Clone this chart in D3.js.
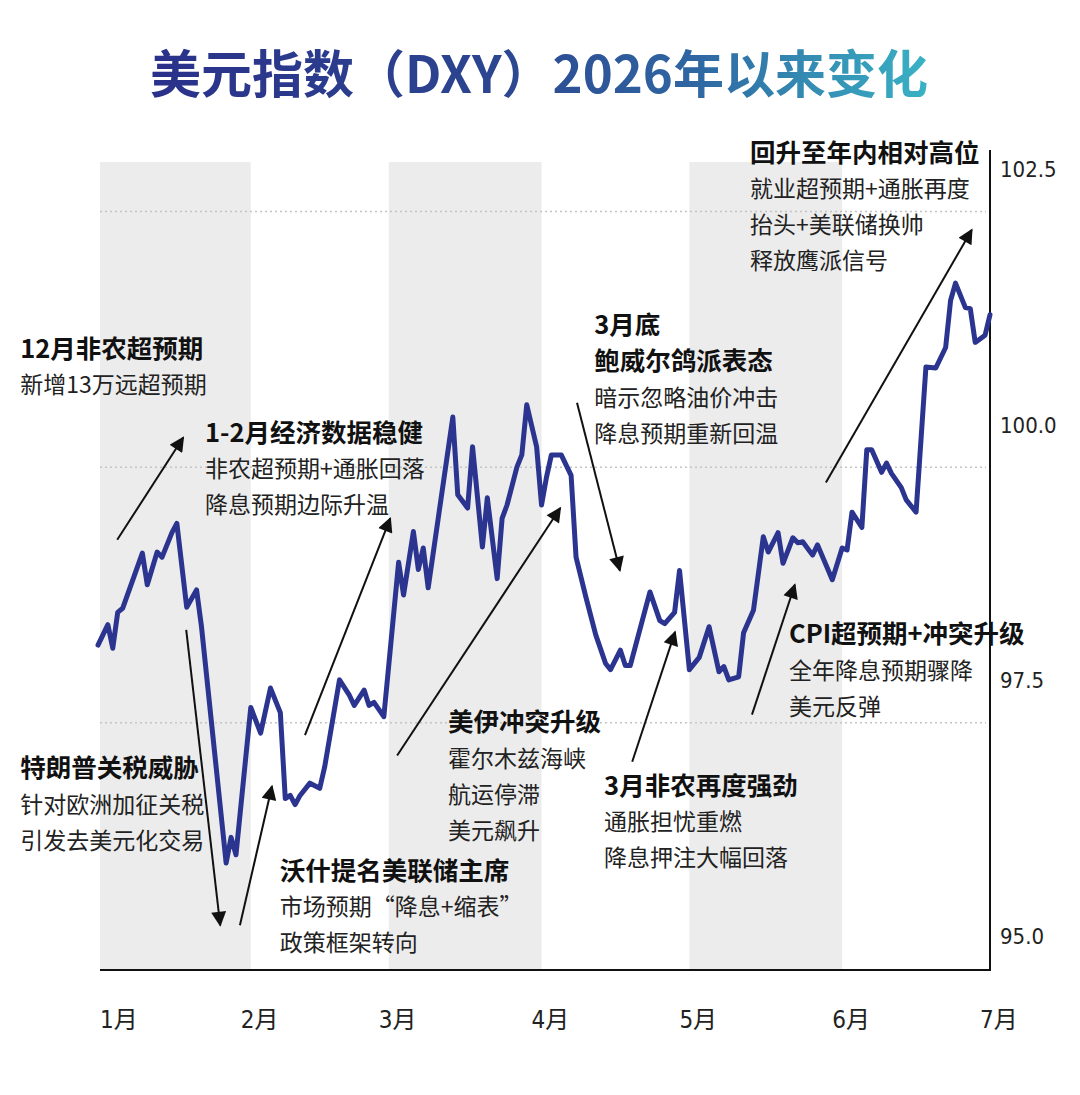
<!DOCTYPE html>
<html><head><meta charset="utf-8">
<script src="https://cdn.jsdelivr.net/npm/d3@7"></script>
<style>
body{margin:0;background:#fff}
text{font-family:"Noto Sans CJK SC","Noto Sans",sans-serif}
text.tick{font-family:"DejaVu Sans Condensed","Liberation Sans Narrow","Noto Sans CJK SC",sans-serif;font-stretch:condensed}
</style>
</head><body>
<svg id="chart" width="1080" height="1095"></svg>
<script>
// ---------------- data ----------------
const dates = [
 "2026-01-01","2026-01-03","2026-01-04","2026-01-05","2026-01-06","2026-01-10","2026-01-11","2026-01-13","2026-01-14","2026-01-16","2026-01-17","2026-01-19","2026-01-21","2026-01-22","2026-01-27","2026-01-28","2026-01-29",
 "2026-02-01","2026-02-03","2026-02-05","2026-02-07","2026-02-08","2026-02-09","2026-02-10","2026-02-11","2026-02-13","2026-02-15","2026-02-16","2026-02-19","2026-02-21","2026-02-22","2026-02-24","2026-02-25","2026-02-26","2026-02-28",
 "2026-03-03","2026-03-04","2026-03-06","2026-03-07","2026-03-08","2026-03-09","2026-03-14","2026-03-15","2026-03-17","2026-03-18","2026-03-20","2026-03-21","2026-03-23","2026-03-24","2026-03-25","2026-03-27","2026-03-28","2026-03-29","2026-03-31",
 "2026-04-01","2026-04-02","2026-04-03","2026-04-05","2026-04-07","2026-04-08","2026-04-10","2026-04-12","2026-04-14","2026-04-15","2026-04-17","2026-04-18","2026-04-19","2026-04-23","2026-04-25","2026-04-26","2026-04-28","2026-04-29",
 "2026-05-01","2026-05-03","2026-05-05","2026-05-07","2026-05-08","2026-05-09","2026-05-11","2026-05-12","2026-05-14","2026-05-16","2026-05-17","2026-05-19","2026-05-20","2026-05-22","2026-05-23","2026-05-24","2026-05-26","2026-05-27","2026-05-30",
 "2026-06-01","2026-06-02","2026-06-03","2026-06-05","2026-06-06","2026-06-07","2026-06-09","2026-06-10","2026-06-11","2026-06-13","2026-06-14","2026-06-16","2026-06-18","2026-06-20","2026-06-22","2026-06-23","2026-06-24","2026-06-26","2026-06-27","2026-06-28","2026-06-30",
 "2026-07-01"
];
const dxyValues = [
 98.26,98.46,98.23,98.58,98.62,99.16,98.85,99.17,99.12,99.36,99.45,98.63,98.80,98.44,96.13,96.38,96.21,
 97.65,97.40,97.84,97.60,96.76,96.79,96.70,96.79,96.91,96.86,97.07,97.92,97.77,97.67,97.82,97.67,97.70,97.56,
 99.07,98.75,99.37,99.00,99.21,98.82,100.49,99.73,99.60,100.20,99.22,99.70,98.91,99.50,99.63,100.00,100.12,100.61,100.20,
 99.63,99.90,100.12,100.12,99.92,99.12,98.73,98.36,98.08,98.02,98.21,98.06,98.06,98.78,98.50,98.47,98.58,98.99,
 98.02,98.14,98.44,98.00,98.05,97.92,97.95,98.38,98.60,99.32,99.17,99.36,99.06,99.31,99.26,99.27,99.14,99.24,98.90,
 99.21,99.19,99.56,99.41,100.17,100.17,99.95,100.04,99.94,99.80,99.68,99.56,100.98,100.97,101.17,101.63,101.80,101.56,101.55,101.22,101.29,
 101.49
];
const yTickValues = [95, 97.5, 100, 102.5];
const yTickLabels = ["95.0", "97.5", "100.0", "102.5"];
const monthStarts = ["2026-01-01","2026-02-01","2026-03-01","2026-04-01","2026-05-01","2026-06-01","2026-07-01"];
const monthLabels = ["1月","2月","3月","4月","5月","6月","7月"];
const shadedMonthIndex = [0, 2, 4];   // 1月, 3月, 5月

const titleText = "美元指数（DXY）2026年以来变化";

// annotations (anchor in day offset from Jan 1, value)
const annoHeads = [["12月非农超预期"],["1-2月经济数据稳健"],["特朗普关税威胁"],["沃什提名美联储主席"],["美伊冲突升级"],["3月底","鲍威尔鸽派表态"],["3月非农再度强劲"],["CPI超预期+冲突升级"],["回升至年内相对高位"]];
const annoBodies = [["新增13万远超预期"],["非农超预期+通胀回落","降息预期边际升温"],["针对欧洲加征关税","引发去美元化交易"],["市场预期“降息+缩表”","政策框架转向"],["霍尔木兹海峡","航运停滞","美元飙升"],["暗示忽略油价冲击","降息预期重新回温"],["通胀担忧重燃","降息押注大幅回落"],["全年降息预期骤降","美元反弹"],["就业超预期+通胀再度","抬头+美联储换帅","释放鹰派信号"]];
const annoDay   = [-15.8, 21.7, -15.8, 36.9, 71.0, 100.7, 102.7, 140.2, 132.3];
const annoValue = [101.18, 100.36, 97.08, 96.08, 97.53, 101.41, 96.91, 98.39, 103.10];

// arrows: from (day, value) -> to (day, value)
const arrowFromDay   = [3.9, 17.9, 28.8, 42.0, 60.7, 97.2, 108.4, 132.7, 147.7];
const arrowFromValue = [99.29, 98.41, 95.52, 97.38, 97.18, 100.63, 97.12, 97.58, 99.85];
const arrowToDay     = [17.3, 24.8, 35.3, 59.3, 93.8, 105.9, 117.1, 141.4, 177.3];
const arrowToValue   = [100.29, 95.52, 96.88, 99.50, 99.60, 98.99, 98.39, 98.85, 102.32];

// ---------------- drawing ----------------
const parse = d3.timeParse("%Y-%m-%d");
const series = dates.map((d, i) => ({date: parse(d), value: dxyValues[i]}));
const start = parse("2026-01-01"), end = parse("2026-07-01");
const dayToDate = d => new Date(start.getTime() + d * 864e5);

const plotLeft = 98, plotRight = 990, plotTop = 162, plotBottom = 970;
const x = d3.scaleTime().domain([start, end]).range([plotLeft, plotRight]);
const y = d3.scaleLinear().domain([95, 102.5]).range([978.5, 211.5]);

const svg = d3.select("#chart");
svg.append("rect").attr("width",1080).attr("height",1095).attr("fill","#fff");

// title gradient
const defs = svg.append("defs");
const grad = defs.append("linearGradient").attr("id","tg")
  .attr("gradientUnits","userSpaceOnUse").attr("x1",153).attr("x2",925).attr("y1",0).attr("y2",0);
[[0,"#2a318a"],[0.45,"#2c4690"],[0.7,"#2f66a2"],[1,"#39b1c4"]].forEach(s =>
  grad.append("stop").attr("offset",s[0]).attr("stop-color",s[1]));
defs.append("marker").attr("id","ah").attr("viewBox","0 0 10 10")
  .attr("refX",9).attr("refY",5).attr("markerUnits","userSpaceOnUse")
  .attr("markerWidth",20).attr("markerHeight",15).attr("orient","auto")
  .append("path").attr("d","M0,0 L10,5 L0,10 z").attr("fill","#111");

svg.append("text").attr("x",539).attr("y",71).attr("text-anchor","middle")
  .attr("dominant-baseline","central").attr("font-size",51).attr("font-weight",700)
  .attr("fill","url(#tg)").text(titleText);

// shaded month bands
const ms = monthStarts.map(parse);
svg.append("g").selectAll("rect").data(shadedMonthIndex).join("rect")
  .attr("x", i => Math.max(x(ms[i]), 100)).attr("width", i => x(ms[i+1]) - Math.max(x(ms[i]),100))
  .attr("y", plotTop).attr("height", plotBottom - plotTop).attr("fill","#ececec");

// gridlines
svg.append("g").selectAll("line").data(yTickValues.filter(v => v > 95)).join("line")
  .attr("x1",100).attr("x2",986).attr("y1",d=>y(d)).attr("y2",d=>y(d))
  .attr("stroke","#c4c4c4").attr("stroke-width",1.5).attr("stroke-dasharray","2,3");

// y labels
svg.append("g").selectAll("text").data(yTickValues).join("text").attr("class","tick")
  .attr("x",1000).attr("y",d=>y(d)-42).attr("dominant-baseline","central")
  .attr("font-size",22).attr("fill","#222").text((d,i)=>yTickLabels[i]);

// month labels
svg.append("g").selectAll("text").data(ms).join("text").attr("class","tick")
  .attr("x",(d,i)=> i===0 ? 100 : x(d)-10).attr("y",1020).attr("dominant-baseline","central")
  .attr("font-size",24).attr("fill","#222").text((d,i)=>monthLabels[i]);

// axes lines
svg.append("line").attr("x1",100).attr("x2",plotRight+1).attr("y1",plotBottom).attr("y2",plotBottom)
  .attr("stroke","#111").attr("stroke-width",2);
svg.append("line").attr("x1",plotRight).attr("x2",plotRight).attr("y1",150).attr("y2",plotBottom)
  .attr("stroke","#111").attr("stroke-width",2);

// DXY line
const line = d3.line().x(d=>x(d.date)).y(d=>y(d.value));
svg.append("path").datum(series).attr("d",line).attr("fill","none")
  .attr("stroke","#2b3590").attr("stroke-width",5).attr("stroke-linejoin","round").attr("stroke-linecap","round");

// arrows
svg.append("g").selectAll("line").data(arrowFromDay).join("line")
  .attr("x1",(d,i)=>x(dayToDate(arrowFromDay[i]))).attr("y1",(d,i)=>y(arrowFromValue[i]))
  .attr("x2",(d,i)=>x(dayToDate(arrowToDay[i]))).attr("y2",(d,i)=>y(arrowToValue[i]))
  .attr("stroke","#111").attr("stroke-width",2).attr("marker-end","url(#ah)");

// annotation texts
const lh = 36;
annoHeads.forEach((heads, i) => {
  const ax = x(dayToDate(annoDay[i])), ay = y(annoValue[i]);
  const g = svg.append("g");
  heads.forEach((t, j) => g.append("text").attr("x",ax).attr("y",ay + j*lh)
    .attr("dominant-baseline","central").attr("font-size",25.5).attr("font-weight",700)
    .attr("fill","#111").text(t));
  annoBodies[i].forEach((t, j) => g.append("text").attr("x",ax).attr("y",ay + (heads.length + j)*lh + 1)
    .attr("dominant-baseline","central").attr("font-size",23).attr("fill","#222").text(t));
});
</script>
</body></html>
